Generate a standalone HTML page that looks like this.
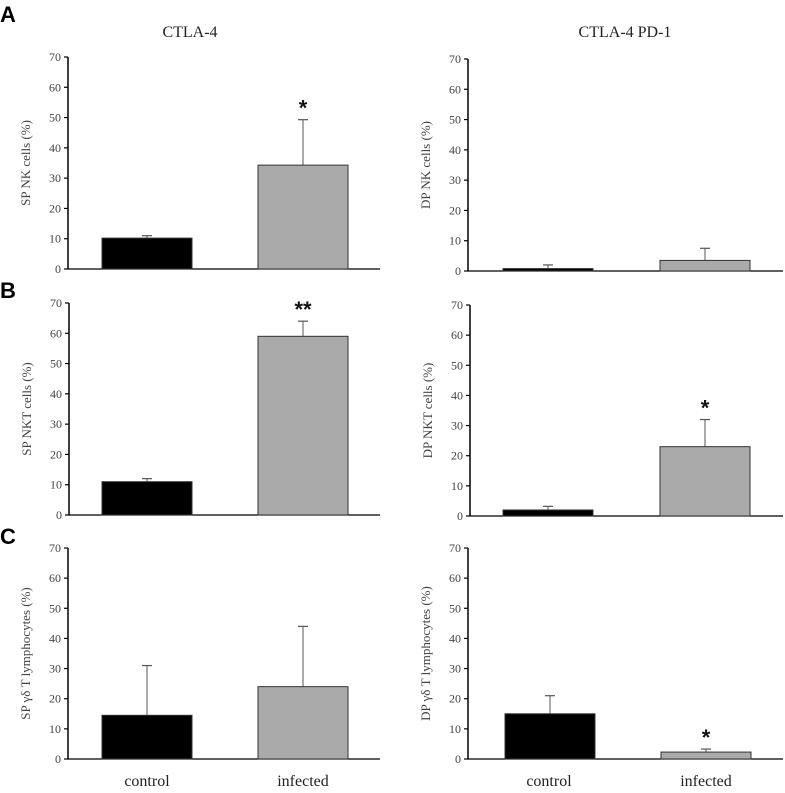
<!DOCTYPE html>
<html><head><meta charset="utf-8"><style>
body{margin:0;background:#fff;width:785px;height:793px;overflow:hidden}
svg{display:block}
</style></head><body>
<svg id="fig" width="785" height="793" xmlns="http://www.w3.org/2000/svg">
<text x="0" y="22" font-family="Liberation Sans, sans-serif" font-weight="bold" font-size="22">A</text>
<text x="0" y="298" font-family="Liberation Sans, sans-serif" font-weight="bold" font-size="22">B</text>
<text x="0" y="544" font-family="Liberation Sans, sans-serif" font-weight="bold" font-size="22">C</text>
<text x="190" y="37" text-anchor="middle" font-family="Liberation Serif, serif" font-size="16" fill="#222">CTLA-4</text>
<text x="625" y="37" text-anchor="middle" font-family="Liberation Serif, serif" font-size="16" fill="#222">CTLA-4 PD-1</text>
<text x="147" y="786" text-anchor="middle" font-family="Liberation Serif, serif" font-size="16" fill="#222">control</text>
<text x="303" y="786" text-anchor="middle" font-family="Liberation Serif, serif" font-size="16" fill="#222">infected</text>
<text x="549" y="786" text-anchor="middle" font-family="Liberation Serif, serif" font-size="16" fill="#222">control</text>
<text x="706" y="786" text-anchor="middle" font-family="Liberation Serif, serif" font-size="16" fill="#222">infected</text>
</svg>
<script>
const panelNames = ["sp-nk","dp-nk","sp-nkt","dp-nkt","sp-gd","dp-gd"];
const yTitles = ["SP NK cells (%)","DP NK cells (%)","SP NKT cells (%)","DP NKT cells (%)","SP γδ T lymphocytes (%)","DP γδ T lymphocytes (%)"];
const controlValues = [10.2, 0.8, 11, 2, 14.5, 15];
const infectedValues = [34.3, 3.5, 59, 23, 24, 2.3];
const controlErrors = [0.8, 1.2, 1, 1.2, 16.5, 6];
const infectedErrors = [15, 4, 5, 9, 20, 1];
const stars = ["*","","**","*","","*"];
const yTicks = [0,10,20,30,40,50,60,70];
const yMax = 70;
// layout (not data)
const frames = [
 {ax:68,top:57,bot:269,xend:380,b1:102,b2:258,bw:90},
 {ax:468,top:59,bot:271,xend:783,b1:503,b2:660,bw:90},
 {ax:69,top:303,bot:515,xend:380,b1:102,b2:258,bw:90},
 {ax:470,top:305,bot:516,xend:783,b1:503,b2:660,bw:90},
 {ax:68,top:548,bot:759,xend:380,b1:102,b2:258,bw:90},
 {ax:468,top:548,bot:759,xend:783,b1:505,b2:661,bw:90}
];
const svg = document.getElementById('fig');
const NS = "http://www.w3.org/2000/svg";
function mk(tag, attrs){const e=document.createElementNS(NS,tag);for(const k in attrs)e.setAttribute(k,attrs[k]);svg.appendChild(e);return e;}
frames.forEach((f,i)=>{
  const y = v => f.bot - v/yMax*(f.bot-f.top);
  const p = panelNames[i];
  const ya = mk('line',{x1:f.ax,y1:f.top,x2:f.ax,y2:f.bot,stroke:'#000','stroke-width':1.5});
  
  
  const xa = mk('line',{x1:f.ax,y1:f.bot,x2:f.xend,y2:f.bot,stroke:'#000','stroke-width':1.2});
  
  
  yTicks.forEach(t=>{
    const tk = mk('line',{x1:f.ax-4,y1:y(t),x2:f.ax,y2:y(t),stroke:'#000','stroke-width':1.2});
    
    
    const tl = mk('text',{x:f.ax-7,y:y(t)+4,'text-anchor':'end','font-family':'Liberation Serif, serif','font-size':12,fill:'#444'});
    tl.textContent = t;
    
    
  });
  const cy=(f.top+f.bot)/2, tx=f.ax-38;
  const tt = mk('text',{x:tx,y:cy,'text-anchor':'middle','font-family':'Liberation Serif, serif','font-size':13,fill:'#444',transform:`rotate(-90 ${tx} ${cy})`});
  tt.textContent = yTitles[i];
  
  
  [[f.b1,controlValues[i],controlErrors[i],'#000','control'],[f.b2,infectedValues[i],infectedErrors[i],'#aaa','infected']].forEach(([bx,v,e,c,n])=>{
    const cx = bx+f.bw/2;
    const el = mk('line',{x1:cx,y1:y(v),x2:cx,y2:y(v+e),stroke:'#555','stroke-width':1});
    
    
    const ec = mk('line',{x1:cx-5,y1:y(v+e),x2:cx+5,y2:y(v+e),stroke:'#555','stroke-width':1.2});
    
    
    const r = mk('rect',{x:bx,y:y(v),width:f.bw,height:f.bot-y(v),fill:c,stroke:'#333','stroke-width':1});
    
    
    if(n==='infected' && stars[i]){
      const s = mk('text',{x:cx,y:y(v+e)-4,'text-anchor':'middle','font-family':'Liberation Sans, sans-serif','font-size':22,'font-weight':'bold',fill:'#111'});
      s.textContent = stars[i];
      
      
    }
  });
});
</script>
</body></html>
